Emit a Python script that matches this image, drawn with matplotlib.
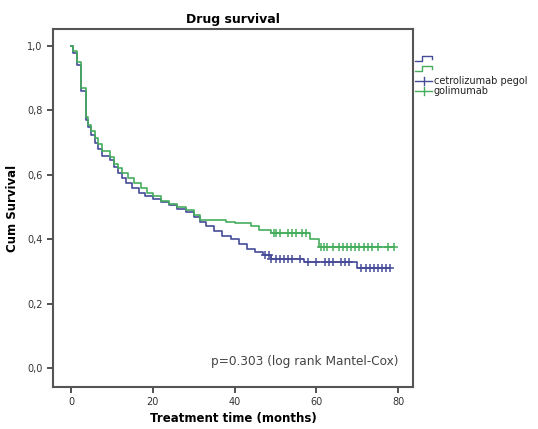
import matplotlib
matplotlib.use("Agg")
import matplotlib.pyplot as plt
from matplotlib.lines import Line2D
import numpy as np

# golimumab (green)
gol_t = [0, 0.5, 1.5, 2.5, 3.7, 4.2, 5, 5.8, 6.6, 7.5, 9.5, 10.5, 11.5, 12.5, 14, 15.5,
         17, 18.5, 20, 22, 24, 26, 28, 30, 31.5, 38, 40, 44, 46, 49, 58.5, 60.5, 79]
gol_s = [1.0, 0.985, 0.95, 0.87, 0.78, 0.755, 0.735, 0.715, 0.695, 0.675, 0.655, 0.635,
         0.62, 0.605, 0.59, 0.575, 0.56, 0.545, 0.535, 0.52, 0.51, 0.50, 0.49, 0.475,
         0.46, 0.455, 0.45, 0.44, 0.43, 0.42, 0.40, 0.375, 0.375]
gol_cens = [49.5, 50.2, 51, 53, 54, 55, 56.5, 57.5, 61, 61.8, 62.5, 64, 65.5, 66.5, 67.5,
            68.5, 69.5, 70.5, 71.5, 72.5, 73.5, 75, 77.5, 79]

# certolizumab pegol (blue)
cer_t = [0, 0.5, 1.5, 2.5, 3.7, 4.2, 5, 5.8, 6.6, 7.5, 9.5, 10.5, 11.5, 12.5, 13.5, 15,
         16.5, 18, 20, 22, 24, 26, 28, 30, 31.5, 33, 35, 37, 39, 41, 43, 45, 47, 49, 57,
         70, 78]
cer_s = [1.0, 0.98, 0.94, 0.86, 0.77, 0.75, 0.725, 0.70, 0.68, 0.66, 0.645, 0.625, 0.605,
         0.59, 0.575, 0.56, 0.545, 0.535, 0.525, 0.515, 0.505, 0.495, 0.485, 0.47, 0.455,
         0.44, 0.425, 0.41, 0.40, 0.385, 0.37, 0.36, 0.35, 0.34, 0.33, 0.31, 0.31]
cer_cens = [47.5, 48.5, 49, 50, 51, 52, 53, 54, 56, 58, 60, 62, 63, 64, 66, 67, 68, 71,
            72, 73, 74, 75, 76, 77, 78]

labels = ["cetrolizumab pegol", "golimumab"]
blue = "#464c98"
green = "#45ad5c"


def surv_at(ts, ss, x):
    idx = np.searchsorted(ts, x, side="right") - 1
    return np.array(ss)[idx]


fig = plt.figure(figsize=(5.38, 4.29), dpi=100)
ax = fig.add_axes([0.0985, 0.0979, 0.6692, 0.8345])

for ts, ss, cens, c in [(cer_t, cer_s, cer_cens, blue), (gol_t, gol_s, gol_cens, green)]:
    ax.step(ts, ss, where="post", color=c, lw=1.2)
    ax.plot(cens, surv_at(ts, ss, cens), "+", color=c, ms=6, mew=1.1)

ax.set_xlim(-4.4, 83.6)
ax.set_ylim(-0.059, 1.053)
ax.set_xticks([0, 20, 40, 60, 80])
ax.set_yticks([0, 0.2, 0.4, 0.6, 0.8, 1.0])
ax.set_yticklabels(["0,0", "0,2", "0,4", "0,6", "0,8", "1,0"])
ax.tick_params(direction="out", length=4, width=1.2, labelsize=7, colors="#333333")
for sp in ax.spines.values():
    sp.set_color("#555555")
    sp.set_linewidth(1.5)

ax.set_title("Drug survival", fontsize=9, fontweight="bold", pad=4)
ax.set_xlabel("Treatment time (months)", fontsize=8.5, fontweight="bold", labelpad=3)
ax.set_ylabel("Cum Survival", fontsize=8.5, fontweight="bold", labelpad=6)
ax.text(0.96, 0.07, "p=0.303 (log rank Mantel-Cox)", transform=ax.transAxes,
        ha="right", va="center", fontsize=8.7, color="#444444")

# legend drawn by hand, SPSS style
W, H = 538.0, 429.0
def fx(px):
    return px / W
def fy(py):
    return 1 - py / H

for py, c in [(61, blue), (71, green)]:
    xs = [415, 422, 422, 432, 432]
    ys = [py, py, py - 5, py - 5, py - 2]
    fig.add_artist(Line2D([fx(v) for v in xs], [fy(v) for v in ys], color=c, lw=1.0))

for py, c, lab in [(81, blue, labels[0]), (91, green, labels[1])]:
    fig.add_artist(Line2D([fx(415), fx(432)], [fy(py), fy(py)], color=c, lw=1.0))
    fig.add_artist(Line2D([fx(423.5), fx(423.5)], [fy(py - 4), fy(py + 4)], color=c, lw=1.0))
    fig.text(fx(434), fy(py), lab, fontsize=7, va="center", ha="left", color="#222222")

fig.savefig("out.png", dpi=100)
